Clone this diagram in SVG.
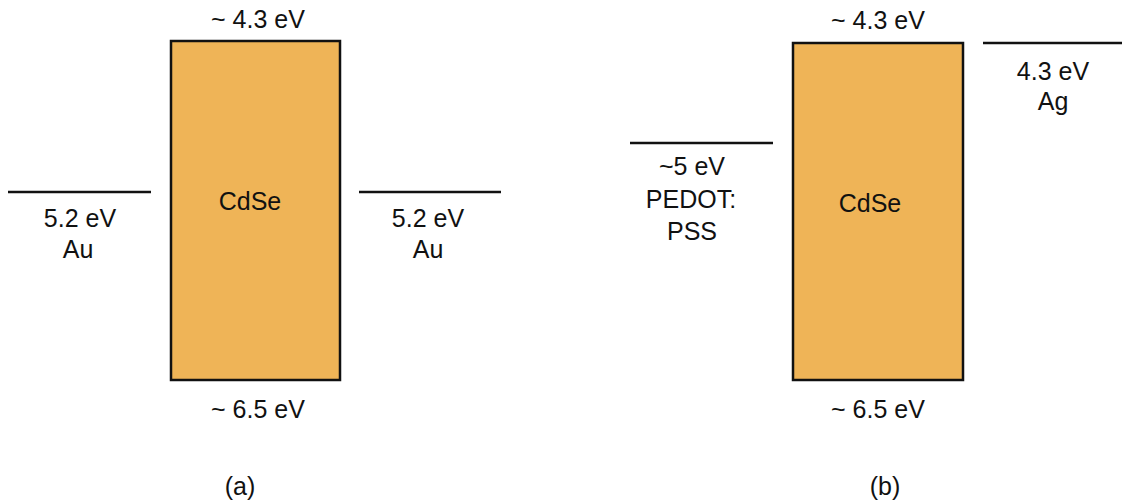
<svg xmlns="http://www.w3.org/2000/svg" width="1122" height="504" viewBox="0 0 1122 504">
<style>
text{font-family:"Liberation Sans",Arial,sans-serif;font-size:25px;fill:#111;text-anchor:middle}
.band{fill:#EFB457;stroke:#111;stroke-width:2.5}
.lvl{stroke:#111;stroke-width:2.5}
</style>
<rect width="1122" height="504" fill="#fff"/>
<g id="cdse-a">
<rect class="band" x="171" y="41" width="169" height="339"/>
<text x="250" y="210">CdSe</text>
<text x="258" y="28">~ 4.3 eV</text>
<text x="258" y="418">~ 6.5 eV</text>
</g>
<g id="au-left">
<line class="lvl" x1="8" y1="192" x2="151" y2="192"/>
<text x="80" y="227">5.2 eV</text>
<text x="78" y="258">Au</text>
</g>
<g id="au-right">
<line class="lvl" x1="359" y1="192" x2="501" y2="192"/>
<text x="428" y="227">5.2 eV</text>
<text x="428" y="258">Au</text>
</g>
<text x="240" y="495">(a)</text>
<g id="cdse-b">
<rect class="band" x="793" y="43" width="170" height="337"/>
<text x="870" y="212">CdSe</text>
<text x="878" y="29">~ 4.3 eV</text>
<text x="878" y="418">~ 6.5 eV</text>
</g>
<g id="pedot">
<line class="lvl" x1="630" y1="143" x2="773" y2="143"/>
<text x="692" y="175">~5 eV</text>
<text x="691" y="208">PEDOT:</text>
<text x="692" y="240">PSS</text>
</g>
<g id="ag">
<line class="lvl" x1="983" y1="43" x2="1122" y2="43"/>
<text x="1053" y="80">4.3 eV</text>
<text x="1053" y="110">Ag</text>
</g>
<text x="885" y="495">(b)</text>
<g id="connectors"/>
</svg>
